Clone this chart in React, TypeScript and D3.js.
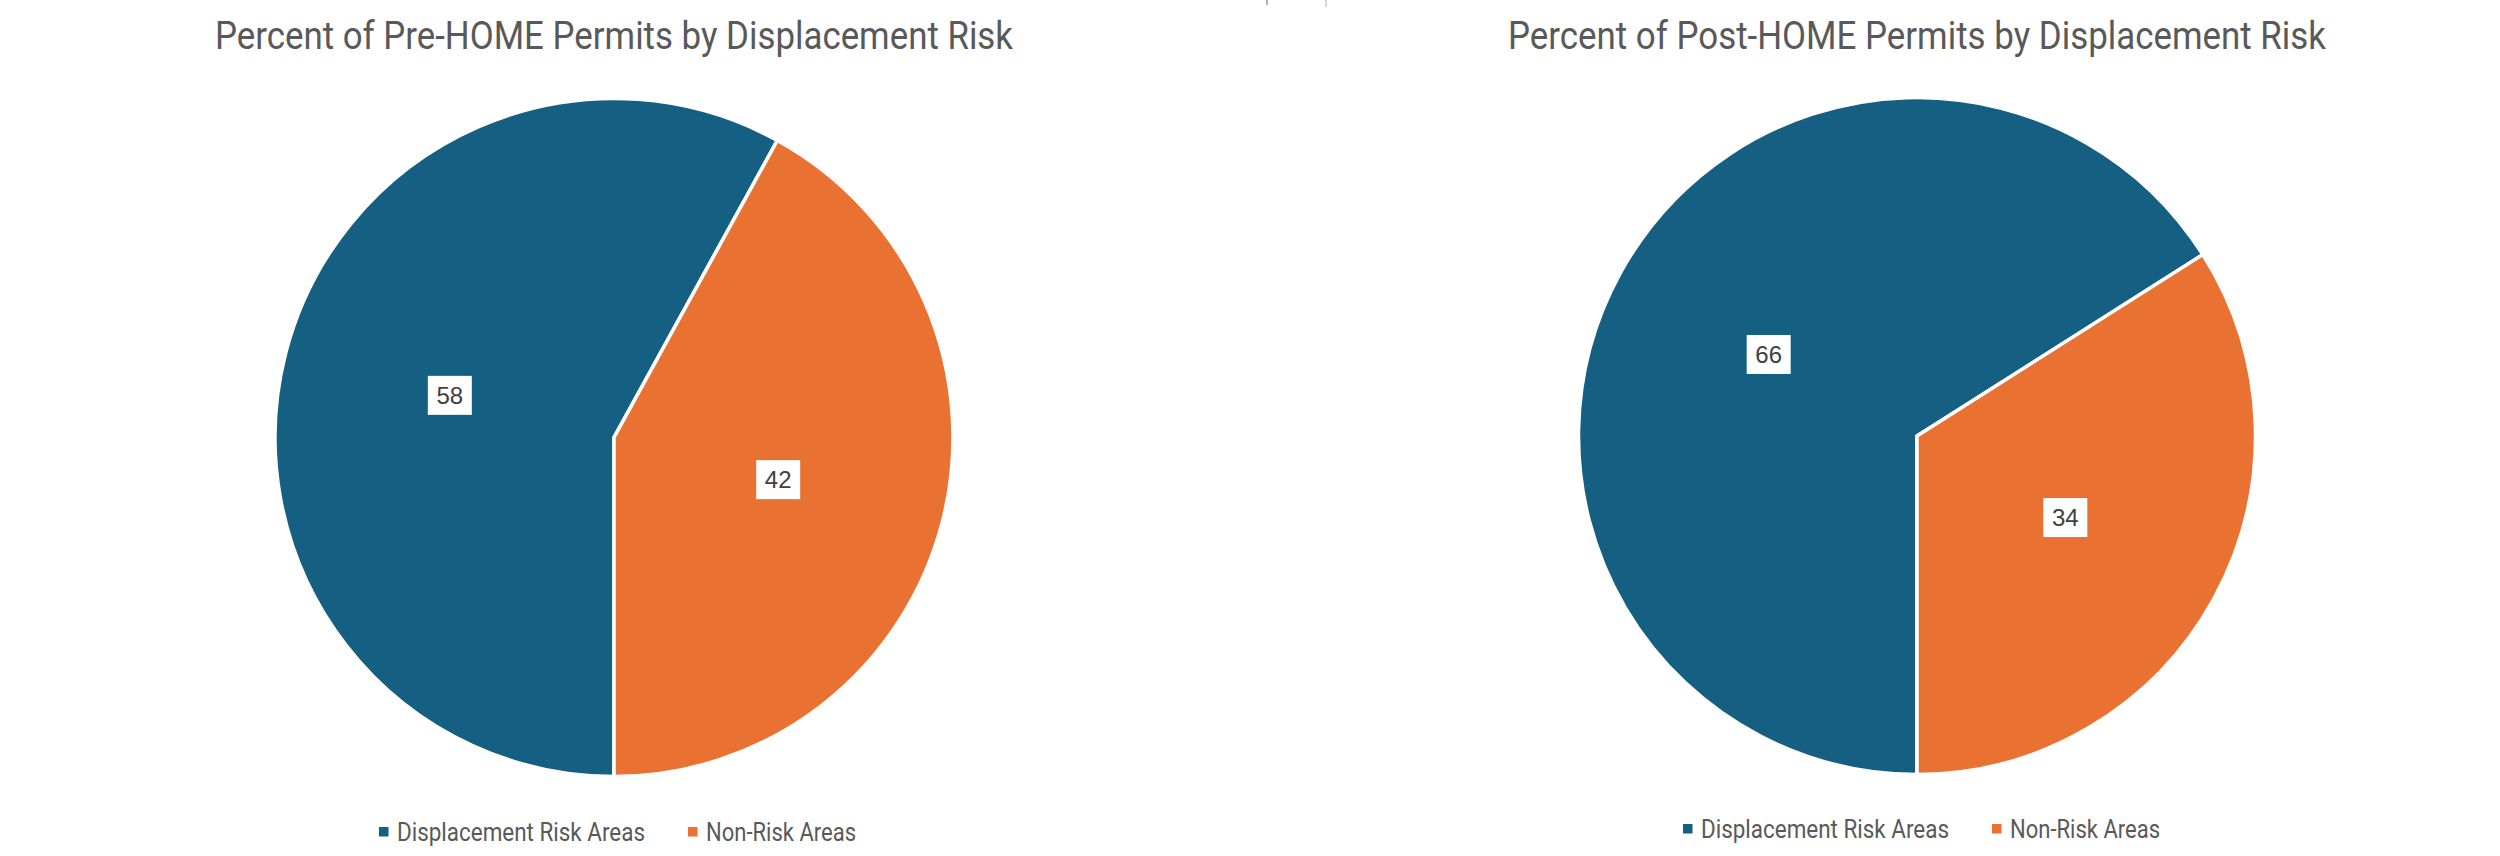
import React from "react";
import * as d3 from "d3";

const categories = ["Displacement Risk Areas", "Non-Risk Areas"];
const preHomeValues = [58, 42];
const postHomeValues = [66, 34];
const titles = [
  "Percent of Pre-HOME Permits by Displacement Risk",
  "Percent of Post-HOME Permits by Displacement Risk",
];
const colors = ["#156082", "#E97132"];

const W = 2500;
const H = 856;
const FONT = "Roboto, 'Noto Sans', sans-serif";
const LABEL_FONT = "'Liberation Sans', Arial, sans-serif";

type PanelProps = {
  cx: number;
  cy: number;
  r: number;
  values: number[];
  title: string;
  titleWidth: number;
  legendX: number;
  legendY: number;
};

function PiePanel({ cx, cy, r, values, title, titleWidth, legendX, legendY }: PanelProps) {
  const pie = d3
    .pie<number>()
    .sort(null)
    .startAngle(Math.PI)
    .endAngle(3 * Math.PI);
  const arcs = pie(values);
  const arc = d3.arc<d3.PieArcDatum<number>>().innerRadius(0).outerRadius(r);
  const labelArc = d3.arc<d3.PieArcDatum<number>>().innerRadius(0).outerRadius(r);

  const legendText = [248, 150];
  const legendGap = 43;
  let lx = legendX;
  const legendItems = categories.map((c, i) => {
    const item = { x: lx, label: c, color: colors[i], w: legendText[i] };
    lx += 18 + legendText[i] + legendGap;
    return item;
  });

  return (
    <g>
      <text
        x={cx}
        y={49}
        textAnchor="middle"
        fontFamily={FONT}
        fontSize={39}
        fill="#595959"
        textLength={titleWidth}
        lengthAdjust="spacingAndGlyphs"
      >
        {title}
      </text>
      <g transform={`translate(${cx},${cy})`}>
        {arcs.map((a, i) => (
          <path
            key={i}
            d={arc(a) || ""}
            fill={colors[i]}
            stroke="#ffffff"
            strokeWidth={3.5}
            strokeLinejoin="miter"
          />
        ))}
        {arcs.map((a, i) => {
          const [x, y] = labelArc.centroid(a);
          return (
            <g key={"l" + i} transform={`translate(${x},${y})`}>
              <rect x={-22} y={-19.5} width={44} height={39} fill="#ffffff" />
              <text
                x={0}
                y={8.5}
                textAnchor="middle"
                fontFamily={LABEL_FONT}
                fontSize={24}
                fill="#404040"
              >
                {String(a.data)}
              </text>
            </g>
          );
        })}
      </g>
      {legendItems.map((it, i) => (
        <g key={"lg" + i}>
          <rect x={it.x} y={legendY - 5} width={9.5} height={9.5} fill={it.color} />
          <text
            x={it.x + 18}
            y={legendY + 9}
            fontFamily={FONT}
            fontSize={26}
            fill="#595959"
            textLength={it.w}
            lengthAdjust="spacingAndGlyphs"
          >
            {it.label}
          </text>
        </g>
      ))}
    </g>
  );
}

export default function App() {
  return (
    <svg
      width={W}
      height={H}
      viewBox={`0 0 ${W} ${H}`}
      style={{ position: "absolute", left: 0, top: 0, background: "#ffffff" }}
    >
      <rect x={0} y={0} width={W} height={H} fill="#ffffff" />
      <line x1={1267} y1={0} x2={1267} y2={5} stroke="#9a9a9a" strokeWidth={1.5} />
      <line x1={1326} y1={0} x2={1326} y2={7} stroke="#c8c8c8" strokeWidth={1.5} />
      <PiePanel
        cx={614}
        cy={437.5}
        r={339}
        values={preHomeValues}
        title={titles[0]}
        titleWidth={798}
        legendX={379}
        legendY={832}
      />
      <PiePanel
        cx={1917}
        cy={436}
        r={338.5}
        values={postHomeValues}
        title={titles[1]}
        titleWidth={818}
        legendX={1683}
        legendY={829}
      />
    </svg>
  );
}
